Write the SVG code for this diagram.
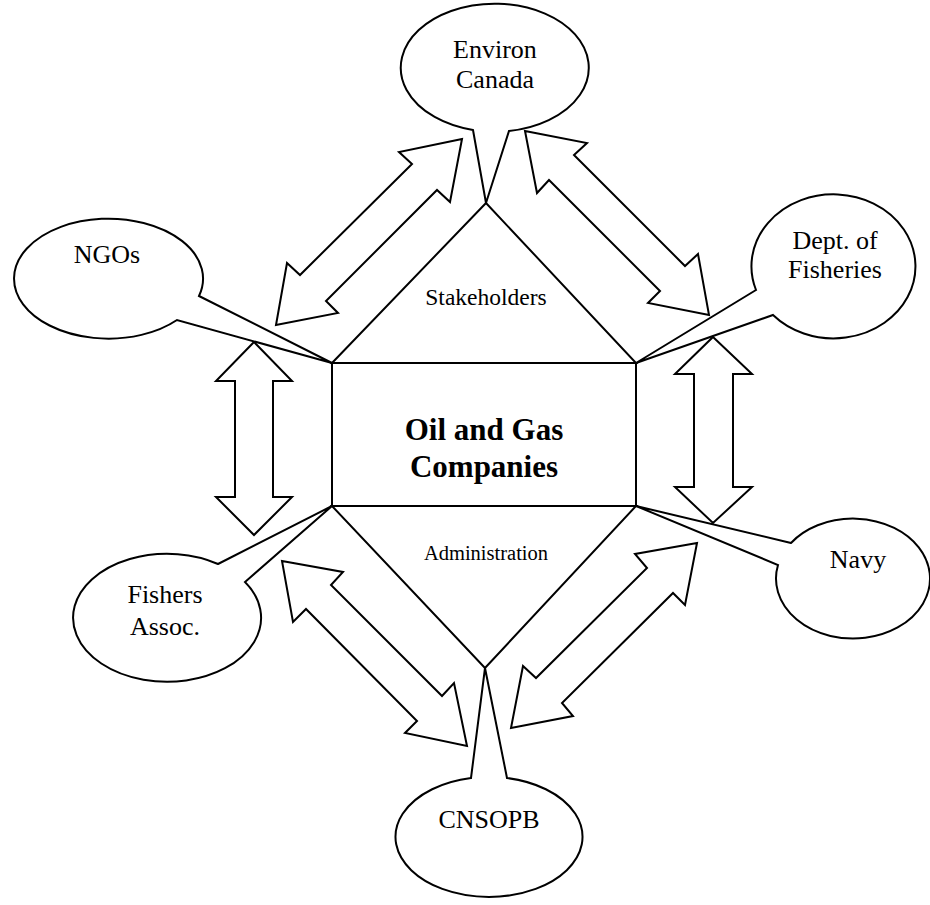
<svg xmlns="http://www.w3.org/2000/svg" width="930" height="905" viewBox="0 0 930 905">
<style>
.s{fill:#fff;stroke:#000;stroke-width:2;stroke-linejoin:miter}
.n{fill:none;stroke:#000;stroke-width:2}
text{font-family:"Liberation Serif","Times New Roman",serif;fill:#000;text-anchor:middle}
.t{font-size:26px}
.b{font-size:31px;font-weight:bold}
</style>
<rect width="930" height="905" fill="#fff"/>
<g id="connectors">
<polygon class="s" points="462,139 399,152 412,164 300,275 287,263 276,325 338,313 326,301 437,190 450,202"/>
<polygon class="s" points="525,131 587,143 574,155 685,266 698,254 709,315 648,303 660,291 549,180 537,193"/>
<polygon class="s" points="282,561 343,572 331,585 442,696 454,683 467,746 405,733 417,721 306,609 293,622"/>
<polygon class="s" points="697,543 685,605 673,593 562,703 573,716 511,728 523,666 536,678 647,568 635,554"/>
<polygon class="s" points="254,342 292,381 273,381 273,497 292,497 254,535 216,497 235,497 235,381 216,381"/>
<polygon class="s" points="713,337 752,374 733,374 733,487 752,487 713,523 675,487 694,487 694,374 675,374"/>
</g>
<g id="center">
<polygon class="n" points="332,363 486,203 636,363"/>
<polygon class="n" points="332,506 485,668 636,506"/>
<rect class="n" x="332" y="363" width="304" height="143"/>
<text x="486" y="305" style="font-size:23.5px">Stakeholders</text>
<text x="486" y="560" style="font-size:20.5px">Administration</text>
<text class="b" x="484" y="440">Oil and Gas</text>
<text class="b" x="484" y="477">Companies</text>
</g>
<g id="environ">
<path class="s" d="M473,130 L486,203 L509,131 A94,64 0 1 0 473,130 Z"/>
<text class="t" x="495" y="58">Environ</text>
<text class="t" x="495" y="88">Canada</text>
</g>
<g id="ngos">
<path class="s" d="M199,296 L332,363 L177,320 A94.5,60 0 1 1 199,296 Z"/>
<text class="t" x="107" y="263">NGOs</text>
</g>
<g id="fisheries">
<path class="s" d="M756,290 L636,363 L773,315 A82,72 0 1 0 756,290 Z"/>
<text class="t" x="835" y="249">Dept. of</text>
<text class="t" x="835" y="278">Fisheries</text>
</g>
<g id="navy">
<path class="s" d="M791,543 L636,506 L778,565 A77,60 0 1 0 791,543 Z"/>
<text class="t" x="858" y="568">Navy</text>
</g>
<g id="fishers">
<path class="s" d="M218,564 L332,506 L245,582 A94,64 0 1 1 218,564 Z"/>
<text class="t" x="165" y="603">Fishers</text>
<text class="t" x="165" y="635">Assoc.</text>
</g>
<g id="cnsopb">
<path class="s" d="M471,778 L485,668 L507,778 A93.5,60 0 1 1 471,778 Z"/>
<text class="t" x="489" y="828">CNSOPB</text>
</g>
</svg>
